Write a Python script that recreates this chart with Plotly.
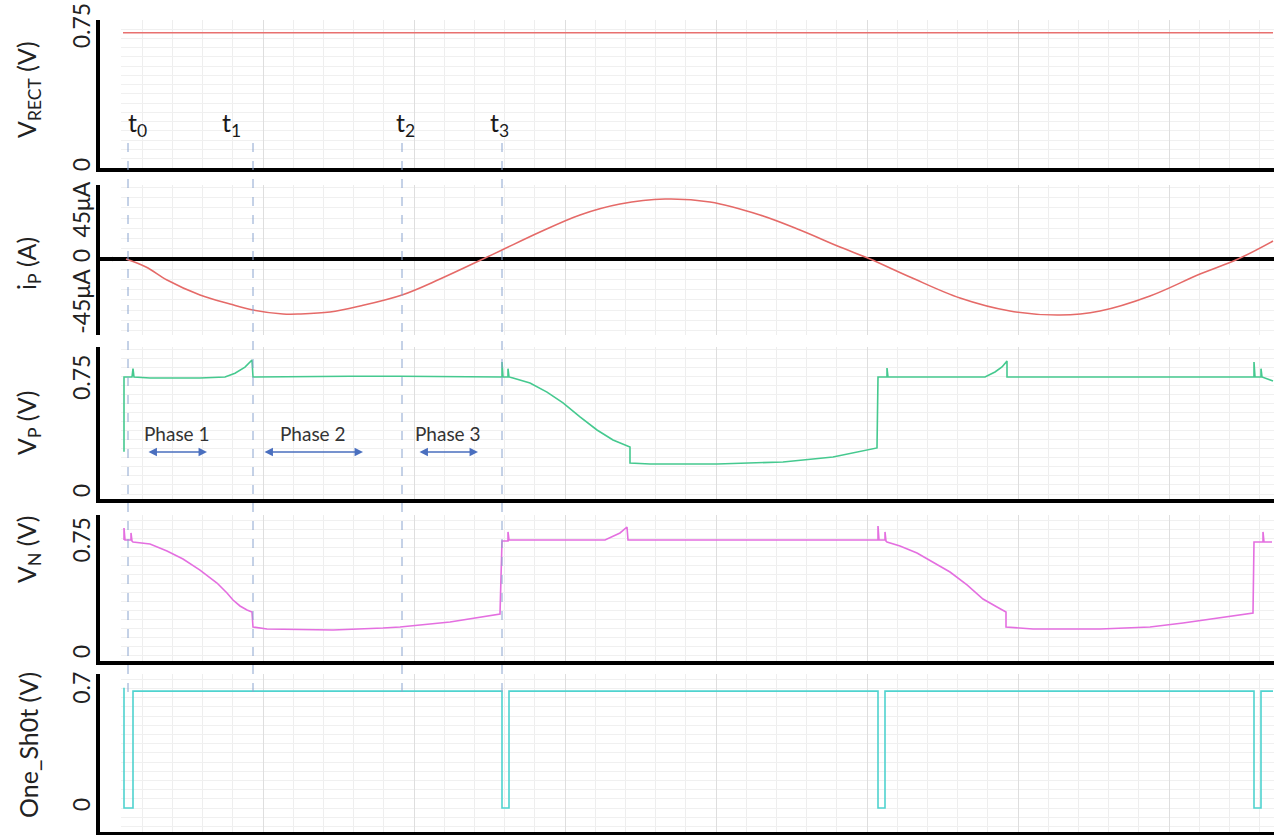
import plotly.graph_objects as go

# ---------------------------------------------------------------- data
# time axis in arbitrary units (one grid division = 30.2 units)
t_rect = [23, 1173]
v_rect = [0.73, 0.73]

t_ip = [26, 46, 67, 100, 130, 153, 183, 200, 230, 260, 302, 340, 383, 402, 440,
        480, 520, 565, 610, 660, 700, 740, 770, 810, 860, 910, 960, 1000, 1050,
        1100, 1138, 1173]
i_ip = [0, -7.8, -20.5, -35.2, -44.0, -49.9, -53.8, -53.8, -51.9, -46.0, -35.2,
        -19.6, 0, 8.8, 26.4, 43.1, 53.8, 58.7, 55.8, 43.1, 28.4, 11.7, 0, -17.6,
        -38.2, -50.9, -54.8, -50.9, -36.2, -14.7, 0, 17.6]

t_vp = [24, 24, 32, 33, 34, 50, 100, 125, 135, 145, 152, 153, 250, 300, 402,
        402, 403, 408, 408, 409, 413, 430, 447, 463, 480, 497, 513, 530, 530,
        550, 617, 683, 733, 777, 778, 787, 787, 788, 885, 895, 902, 907, 907,
        1000, 1154, 1154, 1155, 1161, 1161, 1162, 1173]
v_vp = [0.28, 0.775, 0.775, 0.83, 0.775, 0.768, 0.768, 0.775, 0.80, 0.84, 0.887,
        0.775, 0.78, 0.78, 0.775, 0.874, 0.775, 0.775, 0.83, 0.775, 0.768, 0.735,
        0.675, 0.603, 0.51, 0.424, 0.358, 0.311, 0.205, 0.199, 0.199, 0.212,
        0.245, 0.305, 0.775, 0.775, 0.834, 0.775, 0.775, 0.808, 0.841, 0.88,
        0.775, 0.775, 0.775, 0.874, 0.775, 0.775, 0.83, 0.775, 0.748]

t_vn = [24, 24, 25, 31, 31, 32, 33, 50, 67, 83, 100, 117, 127, 133, 140, 147,
        152, 153, 167, 233, 283, 300, 350, 400, 402, 408, 408, 409, 505, 512,
        520, 527, 528, 778, 778, 779, 785, 785, 786, 787, 800, 817, 833, 850,
        867, 883, 897, 906, 906, 933, 1000, 1050, 1083, 1117, 1153, 1154, 1163,
        1163, 1164, 1172]
v_vn = [0.772, 0.852, 0.772, 0.772, 0.819, 0.765, 0.758, 0.745, 0.698, 0.644,
        0.570, 0.483, 0.416, 0.369, 0.329, 0.302, 0.289, 0.188, 0.174, 0.168,
        0.181, 0.188, 0.221, 0.275, 0.765, 0.765, 0.826, 0.772, 0.772, 0.792,
        0.819, 0.859, 0.772, 0.772, 0.866, 0.772, 0.772, 0.826, 0.765, 0.758,
        0.732, 0.685, 0.624, 0.557, 0.470, 0.376, 0.322, 0.289, 0.188, 0.174,
        0.174, 0.188, 0.215, 0.248, 0.282, 0.758, 0.758, 0.826, 0.758, 0.758]

t_os = [24, 24, 33, 33, 402, 402, 409, 409, 778, 778, 785, 785, 1154, 1154,
        1161, 1161, 1173]
v_os = [0.72, 0, 0, 0.7, 0.7, 0, 0, 0.7, 0.7, 0, 0, 0.7, 0.7, 0, 0, 0.7, 0.7]

t_marks = [28, 153, 302, 402]
t_names = ["t<sub>0</sub>", "t<sub>1</sub>", "t<sub>2</sub>", "t<sub>3</sub>"]

phase_names = ["Phase 1", "Phase 2", "Phase 3"]
phase_spans = [(47, 107), (163, 263), (318, 378)]

# ---------------------------------------------------------------- layout helpers
W, H = 1281, 835
FONT = "Lato"


def px(x):
    return x / W


def py(y):
    return 1 - y / H


# (top px, bottom px, zero px, px per unit, tick values, tick texts, title, title y)
panels = [
    (20, 168, 168, 185.3, [0, 0.75], ["0", "0.75"], "V<sub>RECT</sub> (V)", 90),
    (185, 335, 259, 1.022, [-45, 0, 45], ["-45μA", "0", "45μA"], "i<sub>P</sub> (A)", 264),
    (347, 499, 494, 151.0, [0, 0.75], ["0", "0.75"], "V<sub>P</sub> (V)", 423),
    (515, 661, 655, 149.0, [0, 0.75], ["0", "0.75"], "V<sub>N</sub> (V)", 550),
    (674, 832, 808, 167.0, [0, 0.7], ["0", "0.7"], "One_Sh0t (V)", 745),
]
minor_dy = [0.05, 10, 0.06, 0.06, 0.055]

X0, X1 = 100, 1274
x_range = [0, X1 - X0]
GRID_START = 21  # grid begins a little to the right of each y axis

series = [
    (t_rect, v_rect, "#e8706f"),
    (t_ip, i_ip, "#e56a68"),
    (t_vp, v_vp, "#45c98f"),
    (t_vn, v_vn, "#e46fe0"),
    (t_os, v_os, "#4fd3cf"),
]

fig = go.Figure()
layout = dict(
    width=W, height=H,
    margin=dict(l=0, r=0, t=0, b=0, autoexpand=False),
    paper_bgcolor="white", plot_bgcolor="white",
    showlegend=False,
    font=dict(family=FONT, color="#222222"),
)

annotations = []
shapes = []

for k, ((top, bot, zero, scale, tv, tt, title, ty), (tx, ty_vals, col)) in enumerate(zip(panels, series)):
    n = "" if k == 0 else str(k + 1)
    xa, ya = "xaxis" + n, "yaxis" + n
    xr, yr = "x" + n, "y" + n
    fig.add_trace(go.Scatter(
        x=tx, y=ty_vals, mode="lines", xaxis=xr, yaxis=yr,
        line=dict(color=col, width=1.6, shape="spline" if k == 1 else "linear"),
        hoverinfo="skip"))

    y_lo, y_hi = (zero - bot) / scale, (zero - top) / scale
    layout[xa] = dict(
        domain=[px(X0), px(X1)], range=x_range, anchor=yr, automargin=False,
        showticklabels=False, ticks="",
        showline=(k != 1), linecolor="black", linewidth=4,
        zeroline=False,
        showgrid=True, gridcolor="#dedede", gridwidth=1, tick0=12, dtick=151,
        minor=dict(showgrid=True, gridcolor="#eeeeee", gridwidth=1, tick0=12, dtick=30.2),
    )
    if k:
        layout[xa]["matches"] = "x"
    layout[ya] = dict(
        domain=[py(bot), py(top)],
        range=[y_lo, y_hi],
        anchor=xr, automargin=False,
        tickmode="array", tickvals=tv, ticktext=tt, tickangle=-90,
        tickfont=dict(family=FONT, size=23, color="#222222"),
        ticklabelstandoff=-3,
        ticks="", showline=True, linecolor="black", linewidth=4,
        showgrid=False,
        zeroline=(k == 1), zerolinecolor="black", zerolinewidth=4,
        minor=dict(showgrid=True, gridcolor="#f0f0f0", gridwidth=1, tick0=0, dtick=minor_dy[k]),
    )

    # blank strip between the y axis and the start of the grid
    if k == 1:
        gap = 2.6 / scale
        bands = [(y_lo, -gap), (gap, y_hi)]
    else:
        bands = [(y_lo, y_hi)]
    for b0, b1 in bands:
        shapes.append(dict(type="rect", xref=xr, yref=yr, x0=0, x1=GRID_START,
                           y0=b0, y1=b1, fillcolor="white",
                           line=dict(width=0), layer="above"))

    annotations.append(dict(
        text=title, x=px(28), y=py(ty), xref="paper", yref="paper",
        textangle=-90, showarrow=False, xanchor="center", yanchor="middle",
        font=dict(family=FONT, size=25, color="#222222")))

# event markers t0..t3
label_x = [137, 231, 405, 499]
for tm, name, lx in zip(t_marks, t_names, label_x):
    shapes.append(dict(type="line", xref="x", yref="paper", x0=tm, x1=tm,
                       y0=py(143), y1=py(700),
                       line=dict(color="#8aa4cf", width=1, dash="dash")))
    annotations.append(dict(
        text=name, x=px(lx), y=py(124), xref="paper", yref="paper",
        showarrow=False, xanchor="center", yanchor="middle",
        font=dict(family=FONT, size=25, color="#1a1a1a")))

# phase annotations with double-headed arrows
for name, (a, b) in zip(phase_names, phase_spans):
    annotations.append(dict(
        text=name, x=px(X0 + (a + b) / 2), y=py(433), xref="paper", yref="paper",
        showarrow=False, xanchor="center", yanchor="middle",
        font=dict(family=FONT, size=19, color="#333333")))
    annotations.append(dict(
        text="", x=b, y=(494 - 452) / 151.0, xref="x3", yref="y3",
        ax=a, ay=(494 - 452) / 151.0, axref="x3", ayref="y3",
        showarrow=True, arrowside="end+start", arrowhead=2, startarrowhead=2,
        arrowsize=1.3, startarrowsize=1.3, arrowwidth=1.3, arrowcolor="#4a6fbf"))

layout["annotations"] = annotations
layout["shapes"] = shapes
fig.update_layout(**layout)

fig.write_html("out.html")
